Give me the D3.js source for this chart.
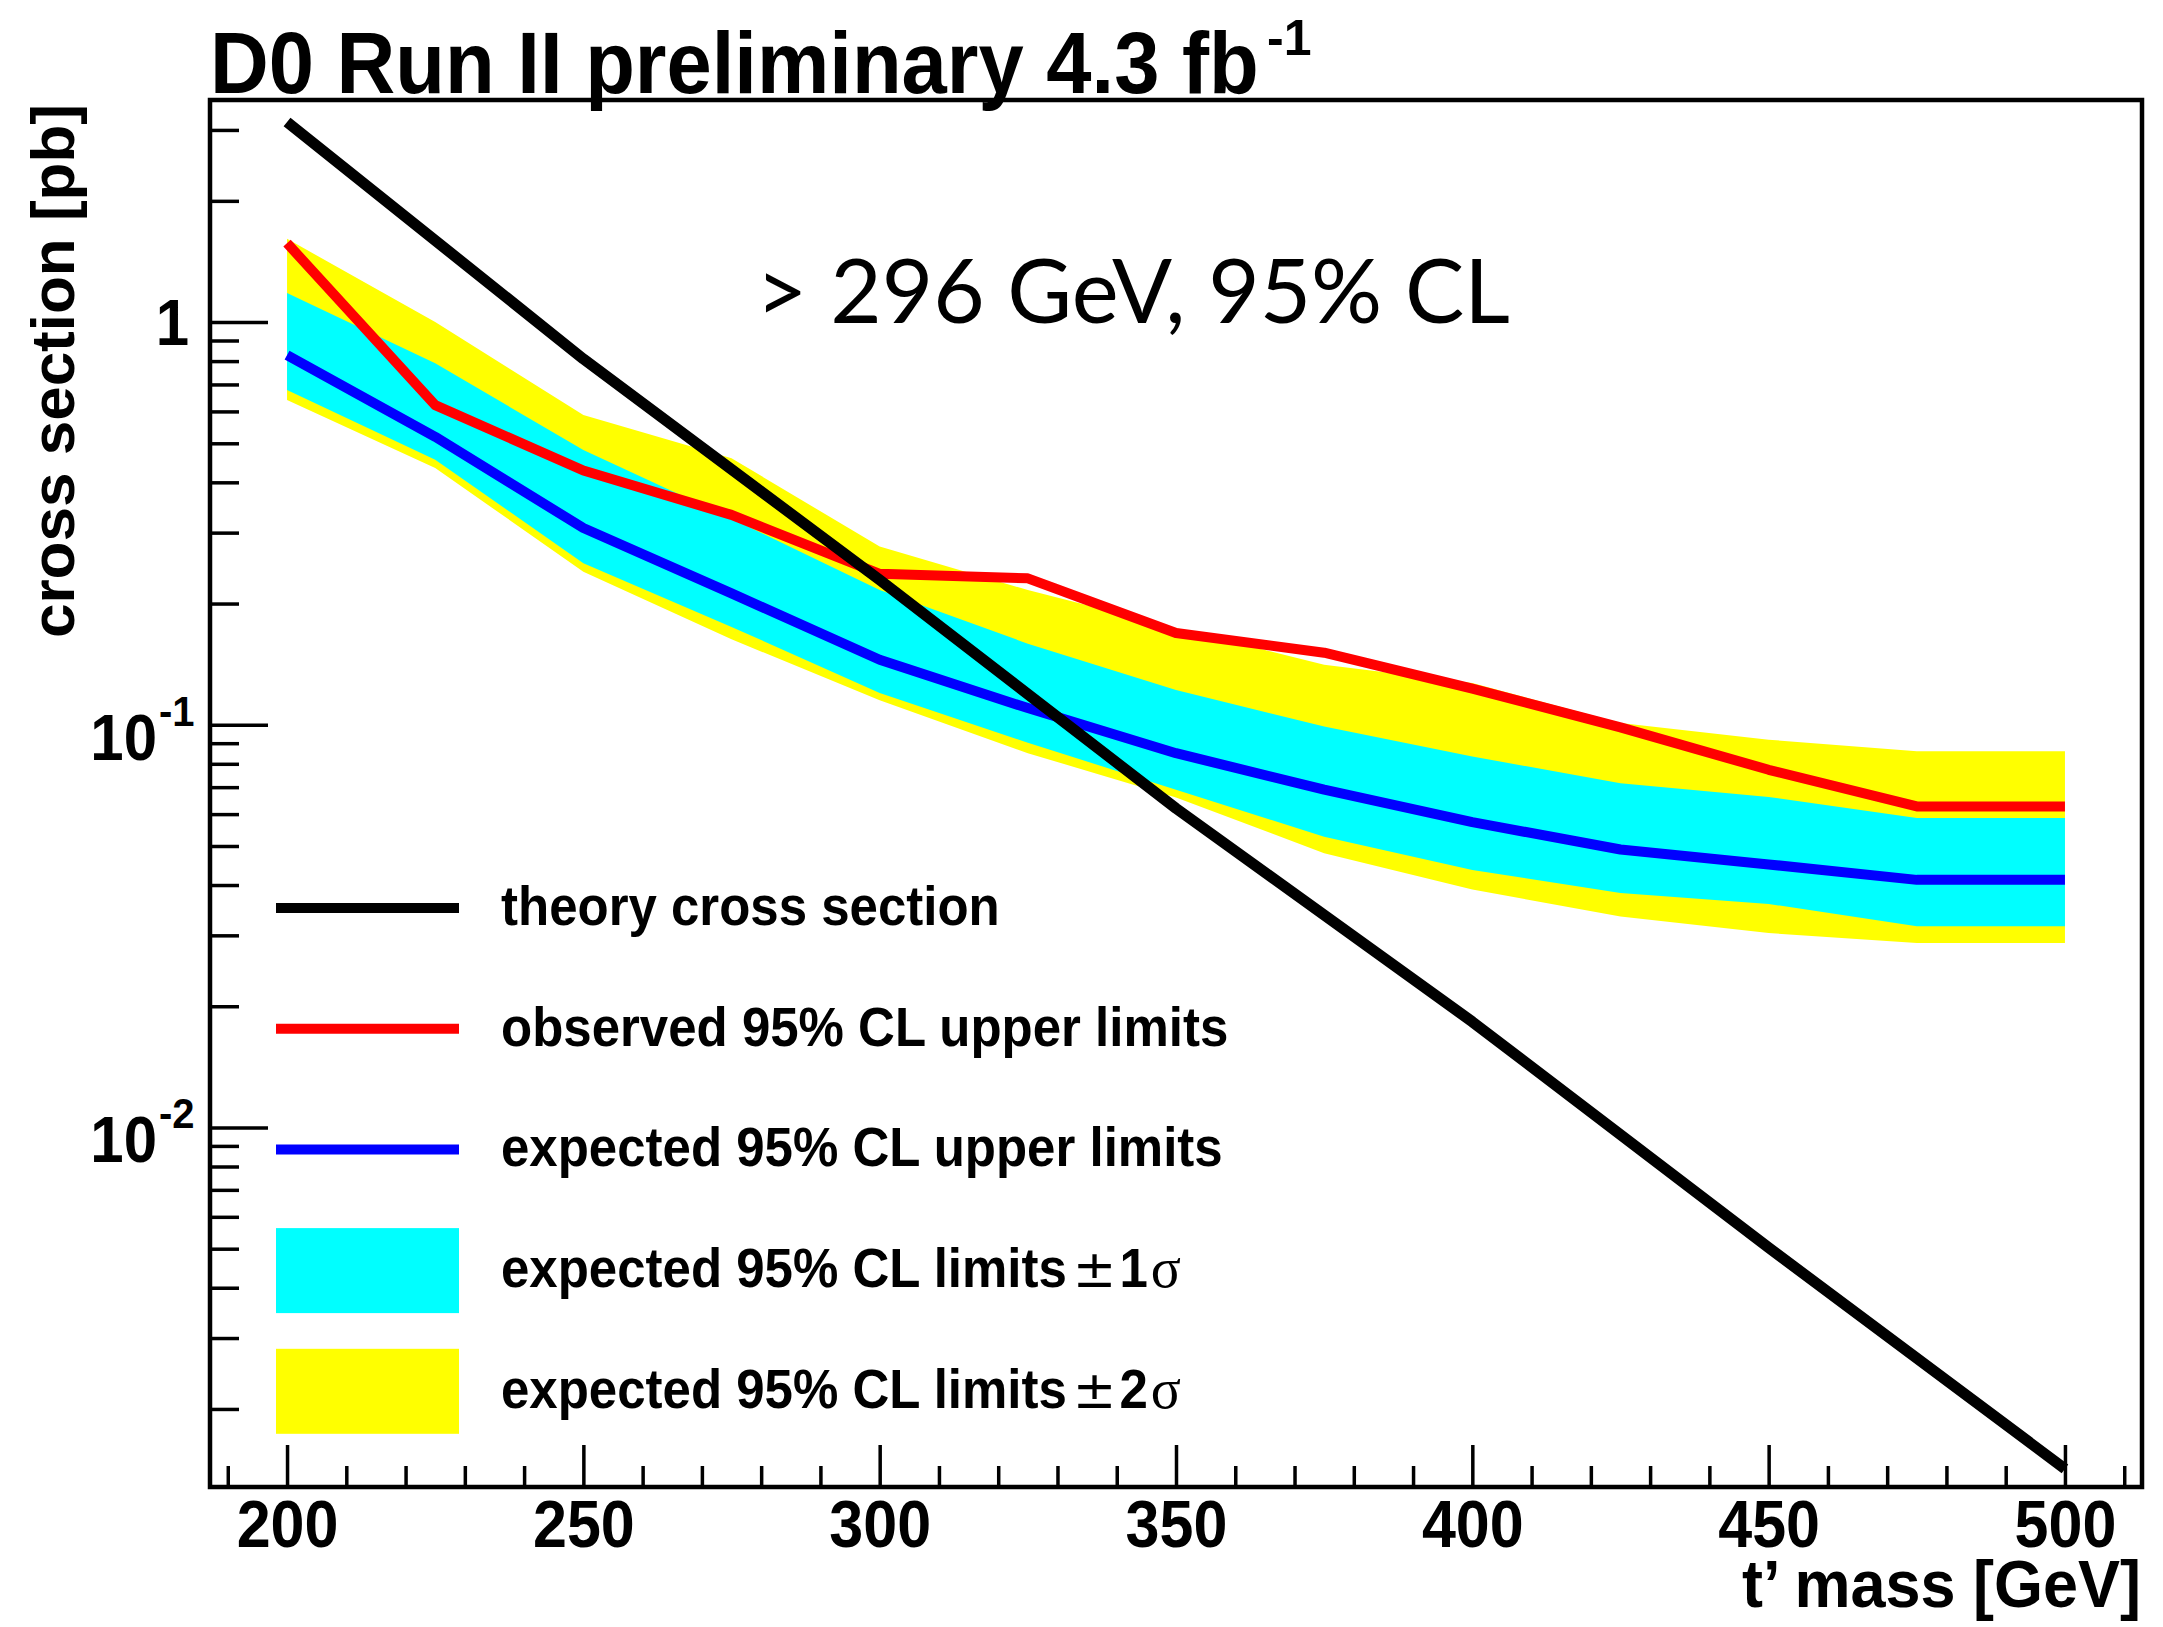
<!DOCTYPE html>
<html><head><meta charset="utf-8">
<script src="https://cdn.jsdelivr.net/npm/d3@7/dist/d3.min.js"></script>
<style>body{margin:0;background:#fff}</style>
</head><body>
<svg id="c" width="2163" height="1627"></svg>
<script>
// ---- data ----
const masses   = [200, 225, 250, 275, 300, 325, 350, 375, 400, 425, 450, 475, 500];
const observed = [1.57, 0.622, 0.428, 0.332, 0.237, 0.231, 0.169, 0.151, 0.123, 0.0985, 0.0773, 0.0627, 0.0627];
const expected = [0.828, 0.519, 0.308, 0.212, 0.145, 0.110, 0.085, 0.069, 0.0573, 0.049, 0.045, 0.0412, 0.0412];
const plus1    = [1.18, 0.79, 0.481, 0.325, 0.216, 0.159, 0.122, 0.099, 0.0834, 0.0716, 0.0662, 0.0587, 0.0587];
const minus1   = [0.678, 0.455, 0.252, 0.175, 0.120, 0.0902, 0.069, 0.0527, 0.0436, 0.0382, 0.0359, 0.0316, 0.0316];
const plus2    = [1.61, 1.0, 0.588, 0.459, 0.277, 0.216, 0.174, 0.141, 0.127, 0.101, 0.0918, 0.0859, 0.0859];
const minus2   = [0.64, 0.434, 0.240, 0.163, 0.115, 0.085, 0.066, 0.048, 0.039, 0.0334, 0.0304, 0.0287, 0.0287];
const theoryMasses = [200, 250, 300, 350, 400, 450, 500];
const theory       = [3.14, 0.81, 0.229, 0.062, 0.0183, 0.00503, 0.00142];

const xMajorTicks = [200, 250, 300, 350, 400, 450, 500];
const xMinorTicks = [190, 210, 220, 230, 240, 260, 270, 280, 290, 310, 320, 330, 340, 360, 370, 380, 390, 410, 420, 430, 440, 460, 470, 480, 490, 510];
const yMajorTicks = [1, 0.1, 0.01];
const yMajorBase  = ["1", "10", "10"];
const yMajorExp   = ["", "-1", "-2"];
const yMinorTicks = [0.002,0.003,0.004,0.005,0.006,0.007,0.008,0.009,
                     0.02,0.03,0.04,0.05,0.06,0.07,0.08,0.09,
                     0.2,0.3,0.4,0.5,0.6,0.7,0.8,0.9, 2, 3];

const legendLabels = ["theory cross section", "observed 95% CL upper limits", "expected 95% CL upper limits",
                      "expected 95% CL limits", "expected 95% CL limits"];
const legendSuffix = ["", "", "", "1", "2"];
const legendColors = ["#000000", "#ff0000", "#0000ff", "#00ffff", "#ffff00"];
const legendKinds  = ["line", "line", "line", "box", "box"];

const titleText = "D0 Run II preliminary 4.3 fb";
const titleExp = "-1";
const xTitle = "t\u2019 mass [GeV]";
const yTitle = "cross section [pb]";
const limitText = "> 296 GeV, 95% CL";

// ---- layout ----
const L = 210, R = 2142, T = 100, B = 1487;
const x = d3.scaleLinear().domain([187, 513]).range([L, R]);
const y = d3.scaleLog().domain([0.00128, 3.56]).range([B, T]);

const svg = d3.select("#c");
svg.append("rect").attr("width", 2163).attr("height", 1627).attr("fill", "#fff");
const font = "'Liberation Sans', Arial, Helvetica, sans-serif";

// text drawn at a given size, squeezed horizontally by sx (condensed look)
function sText(px, py, str, size, sx, opts = {}) {
  const t = svg.append("text")
    .attr("transform", `translate(${px},${py}) scale(${sx},1)`)
    .attr("font-family", opts.family || font)
    .attr("font-weight", opts.weight || "bold")
    .attr("font-size", size).attr("fill", "#000")
    .attr("text-anchor", opts.anchor || "start").text(str);
  return t.node().getComputedTextLength() * sx;
}
function naturalWidth(str, size, family, weight) {
  const t = svg.append("text").attr("font-family", family).attr("font-weight", weight)
    .attr("font-size", size).text(str);
  const w = t.node().getComputedTextLength();
  t.remove();
  return w;
}

svg.append("defs").append("clipPath").attr("id", "clip")
  .append("rect").attr("x", L).attr("y", T).attr("width", R - L).attr("height", B - T);
const plot = svg.append("g").attr("clip-path", "url(#clip)");

const idx = d3.range(masses.length);
const band = (lo, hi) => d3.area().x(i => x(masses[i])).y0(i => y(lo[i])).y1(i => y(hi[i]))(idx);
plot.append("path").attr("d", band(minus2, plus2)).attr("fill", "#ffff00");
plot.append("path").attr("d", band(minus1, plus1)).attr("fill", "#00ffff");

const line = vals => d3.line().x(i => x(masses[i])).y(i => y(vals[i]))(idx);
plot.append("path").attr("d", line(expected)).attr("fill", "none").attr("stroke", "#0000ff")
  .attr("stroke-width", 10).attr("stroke-linejoin", "round");
plot.append("path").attr("d", line(observed)).attr("fill", "none").attr("stroke", "#ff0000")
  .attr("stroke-width", 10).attr("stroke-linejoin", "round");
plot.append("path")
  .attr("d", d3.line().x((d, i) => x(theoryMasses[i])).y(d => y(d))(theory))
  .attr("fill", "none").attr("stroke", "#000").attr("stroke-width", 11).attr("stroke-linejoin", "round");

// ---- limit text ----
{
  const fam = "Lato, 'Open Sans', sans-serif";
  const w0 = naturalWidth(limitText, 90, fam, "normal");
  sText(756, 323, limitText, 90, 754 / w0, {family: fam, weight: "normal"});
}

// ---- legend ----
const legY0 = 908, legDY = 120.7, legK = 51 / 56;
legendLabels.forEach((lab, i) => {
  const cy = legY0 + i * legDY;
  if (legendKinds[i] === "line") {
    svg.append("line").attr("x1", 276).attr("x2", 459).attr("y1", cy).attr("y2", cy)
      .attr("stroke", legendColors[i]).attr("stroke-width", 10);
  } else {
    svg.append("rect").attr("x", 276).attr("y", cy - 42).attr("width", 183).attr("height", 85)
      .attr("fill", legendColors[i]);
  }
  let xs = 501;
  xs += sText(xs, cy + 17, lab, 56, legK);
  if (legendSuffix[i]) {
    xs += 6;
    xs += sText(xs, cy + 17, "\u00b1", 52, 1, {family: "'DejaVu Sans', sans-serif", weight: "normal"}) + 3;
    xs += sText(xs, cy + 17, legendSuffix[i], 56, legK) + 3;
    sText(xs, cy + 17, "\u03c3", 56, 1, {family: "'Liberation Serif', serif", weight: "normal"});
  }
});

// ---- axes ticks ----
const gx = svg.append("g").attr("transform", `translate(0,${B})`);
gx.call(d3.axisTop(x).tickValues(xMajorTicks).tickSize(42).tickFormat(""));
const gxm = svg.append("g").attr("transform", `translate(0,${B})`);
gxm.call(d3.axisTop(x).tickValues(xMinorTicks).tickSize(21).tickFormat(""));
const gy = svg.append("g").attr("transform", `translate(${L},0)`);
gy.call(d3.axisRight(y).tickValues(yMajorTicks).tickSize(58).tickFormat(""));
const gym = svg.append("g").attr("transform", `translate(${L},0)`);
gym.call(d3.axisRight(y).tickValues(yMinorTicks).tickSize(29).tickFormat(""));
[gx, gxm, gy, gym].forEach(g => {
  g.select(".domain").remove();
  g.selectAll(".tick line").attr("stroke", "#000").attr("stroke-width", 3.5);
});

// x labels
const gxl = svg.append("g").attr("transform", `translate(0,${B})`);
gxl.call(d3.axisBottom(x).tickValues(xMajorTicks).tickSize(0).tickPadding(12).tickFormat(d3.format("d")));
gxl.select(".domain").remove();
gxl.selectAll("text").attr("font-family", font).attr("font-weight", "bold").attr("fill", "#000")
  .attr("font-size", 67).attr("transform", `scale(${61 / 67},1)`);

// y labels
yMajorTicks.forEach((v, i) => {
  const ty = y(v);
  if (yMajorExp[i]) {
    sText(157, ty + 35, yMajorBase[i], 65, 60 / 65, {anchor: "end"});
    sText(159, ty + 1, yMajorExp[i], 43, 40 / 43);
  } else {
    sText(189, ty + 23, yMajorBase[i], 65, 60 / 65, {anchor: "end"});
  }
});

// frame
svg.append("rect").attr("x", L).attr("y", T).attr("width", R - L).attr("height", B - T)
  .attr("fill", "none").attr("stroke", "#000").attr("stroke-width", 4.5);

// titles
{
  const w0 = naturalWidth(titleText, 88, font, "bold");
  sText(L, 93, titleText, 88, 1049 / w0);
  sText(1267, 55, titleExp, 50, 1);
}
sText(2141, 1607, xTitle, 66, 63 / 66, {anchor: "end"});

svg.append("text").attr("transform", "translate(74,104) rotate(-90)").attr("text-anchor", "end")
  .attr("font-family", font).attr("font-weight", "bold").attr("font-size", 62).attr("fill", "#000")
  .text(yTitle);
</script>
</body></html>
